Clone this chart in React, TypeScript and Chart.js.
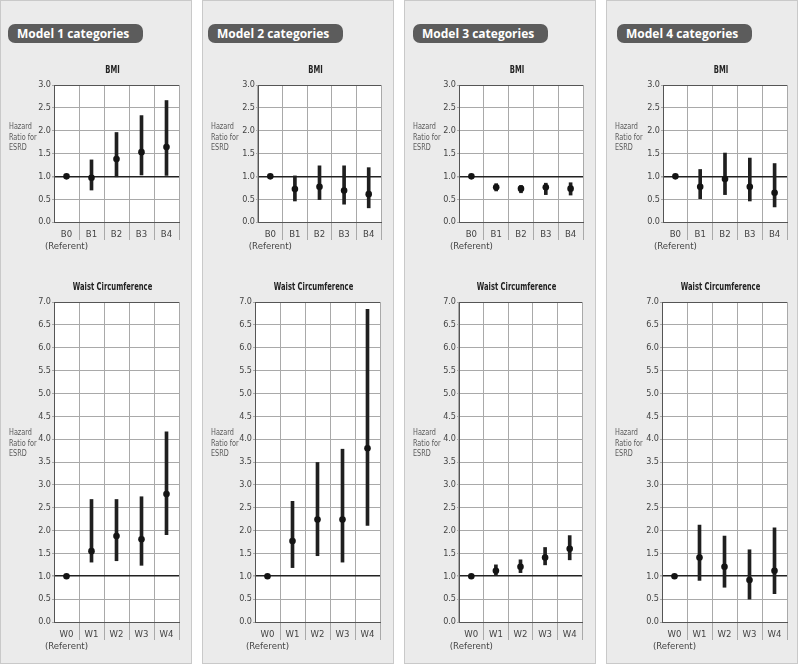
import React, { useEffect, useRef } from "react";
import { Chart, registerables } from "chart.js";

Chart.register(...registerables);

const FONT = "'Liberation Sans Narrow', 'DejaVu Sans Condensed', Arial, sans-serif";

// ---------- data ----------
const modelTitles = ["Model 1 categories", "Model 2 categories", "Model 3 categories", "Model 4 categories"];
const bmiTitle = "BMI";
const waistTitle = "Waist Circumference";
const yAxisTitleLines = ["Hazard", "Ratio for", "ESRD"];
const bmiCategories = [["B0", "(Referent)"], "B1", "B2", "B3", "B4"];
const waistCategories = [["W0", "(Referent)"], "W1", "W2", "W3", "W4"];
const bmiYMax = 3.0;
const waistYMax = 7.0;
const yTickStep = 0.5;

const model1BmiHR = [1.0, 0.97, 1.38, 1.53, 1.64];
const model1BmiLow = [null, 0.70, 0.99, 1.03, 1.02];
const model1BmiHigh = [null, 1.36, 1.96, 2.33, 2.66];

const model2BmiHR = [1.0, 0.72, 0.77, 0.69, 0.61];
const model2BmiLow = [null, 0.46, 0.49, 0.39, 0.31];
const model2BmiHigh = [null, 1.01, 1.23, 1.23, 1.19];

const model3BmiHR = [1.0, 0.76, 0.73, 0.76, 0.73];
const model3BmiLow = [null, 0.68, 0.64, 0.60, 0.59];
const model3BmiHigh = [null, 0.84, 0.80, 0.85, 0.86];

const model4BmiHR = [1.0, 0.77, 0.94, 0.77, 0.64];
const model4BmiLow = [null, 0.51, 0.60, 0.46, 0.33];
const model4BmiHigh = [null, 1.15, 1.51, 1.40, 1.28];

const model1WaistHR = [1.0, 1.55, 1.88, 1.81, 2.80];
const model1WaistLow = [null, 1.31, 1.34, 1.24, 1.91];
const model1WaistHigh = [null, 2.68, 2.68, 2.74, 4.16];

const model2WaistHR = [1.0, 1.77, 2.24, 2.24, 3.80];
const model2WaistLow = [null, 1.19, 1.45, 1.31, 2.11];
const model2WaistHigh = [null, 2.64, 3.49, 3.78, 6.84];

const model3WaistHR = [1.0, 1.12, 1.21, 1.41, 1.60];
const model3WaistLow = [null, 1.03, 1.08, 1.25, 1.36];
const model3WaistHigh = [null, 1.25, 1.36, 1.63, 1.89];

const model4WaistHR = [1.0, 1.41, 1.21, 0.92, 1.12];
const model4WaistLow = [null, 0.91, 0.76, 0.50, 0.62];
const model4WaistHigh = [null, 2.12, 1.88, 1.58, 2.06];

const bmiSeries = [
  { hr: model1BmiHR, low: model1BmiLow, high: model1BmiHigh },
  { hr: model2BmiHR, low: model2BmiLow, high: model2BmiHigh },
  { hr: model3BmiHR, low: model3BmiLow, high: model3BmiHigh },
  { hr: model4BmiHR, low: model4BmiLow, high: model4BmiHigh },
];
const waistSeries = [
  { hr: model1WaistHR, low: model1WaistLow, high: model1WaistHigh },
  { hr: model2WaistHR, low: model2WaistLow, high: model2WaistHigh },
  { hr: model3WaistHR, low: model3WaistLow, high: model3WaistHigh },
  { hr: model4WaistHR, low: model4WaistLow, high: model4WaistHigh },
];

// ---------- layout ----------
const panelX = [0, 202, 404, 606];
const panelW = 192;
const pillX = [8, 208, 413, 617];
const bmiPlotLeft = [54, 258, 459, 663];
const bmiPlotRight = [179, 381, 583, 787];
const waistPlotLeft = [54, 255, 459, 662];
const waistPlotRight = [179, 380, 582, 787];

const BMI_LAYOUT = { canvasTop: 55, canvasHeight: 205, plotTop: 85, plotBottom: 222, titleY: 70, yTitleY: 127 };
const WAIST_LAYOUT = { canvasTop: 262, canvasHeight: 400, plotTop: 302, plotBottom: 622, titleY: 287, yTitleY: 433 };

function drawSqueezed(ctx: CanvasRenderingContext2D, text: string, x: number, y: number, sx: number) {
  ctx.save();
  ctx.translate(x, y);
  ctx.scale(sx, 1);
  ctx.fillText(text, 0, 0);
  ctx.restore();
}

const decorPlugin = {
  id: "decor",
  beforeDraw(chart: any) {
    const { ctx, chartArea } = chart;
    ctx.save();
    ctx.fillStyle = "#ffffff";
    ctx.fillRect(chartArea.left, chartArea.top, chartArea.right - chartArea.left, chartArea.bottom - chartArea.top);
    ctx.restore();
  },
  afterDraw(chart: any, _args: any, opts: any) {
    const { ctx, chartArea } = chart;
    ctx.save();
    ctx.fillStyle = "#222";
    ctx.font = `bold 10.5px ${FONT}`;
    ctx.textAlign = "center";
    ctx.textBaseline = "middle";
    drawSqueezed(ctx, opts.title, (chartArea.left + chartArea.right) / 2 - 4, opts.titleY, 0.72);
    ctx.fillStyle = "#5a5a5a";
    ctx.font = `9.5px ${FONT}`;
    ctx.textAlign = "left";
    (opts.yTitle as string[]).forEach((line, i) => {
      drawSqueezed(ctx, line, opts.yTitleX, opts.yTitleY + i * 10.5, 0.76);
    });
    ctx.restore();
  },
};

type Spec = {
  title: string;
  categories: any[];
  hr: number[];
  low: (number | null)[];
  high: (number | null)[];
  yMax: number;
  left: number;
  width: number;
  plotLeft: number;
  plotRight: number;
  layout: typeof BMI_LAYOUT;
};

function ErrorBarChart({ spec }: { spec: Spec }) {
  const ref = useRef<HTMLCanvasElement>(null);
  useEffect(() => {
    const L = spec.layout;
    const yAxisW = spec.plotLeft - spec.left;
    const padRight = spec.left + spec.width - spec.plotRight;
    const xAxisH = L.canvasTop + L.canvasHeight - L.plotBottom;
    const bars = spec.low.map((l, i) => (l == null ? null : [l, spec.high[i] as number]));
    const gridGray = "#a9a9a9";
    const frame = "#555";
    const n = spec.categories.length;
    const chart = new Chart(ref.current as HTMLCanvasElement, {
      type: "bar",
      data: {
        labels: spec.categories,
        datasets: [
          {
            type: "line",
            data: spec.hr,
            showLine: false,
            pointRadius: 3.3,
            pointBackgroundColor: "#141414",
            pointBorderWidth: 0,
            order: 0,
          } as any,
          {
            type: "bar",
            data: bars as any,
            backgroundColor: "#1f1f1f",
            barThickness: 3,
            borderWidth: 0,
            order: 1,
          } as any,
        ],
      },
      options: {
        responsive: false,
        maintainAspectRatio: false,
        animation: false,
        layout: { padding: { top: L.plotTop - L.canvasTop, left: 0, right: padRight, bottom: 0 } },
        plugins: {
          legend: { display: false },
          tooltip: { enabled: false },
          decor: {
            title: spec.title,
            titleY: L.titleY - L.canvasTop,
            yTitle: yAxisTitleLines,
            yTitleX: 9,
            yTitleY: L.yTitleY - L.canvasTop,
          },
        } as any,
        scales: {
          x: {
            type: "category",
            offset: true,
            grid: {
              offset: true,
              color: (c: any) => (c.index === n ? frame : gridGray),
              tickColor: (c: any) => (c.index === 0 || c.index === n ? "transparent" : gridGray),
              tickLength: 18,
              lineWidth: 1,
            },
            border: { color: frame, width: 1 },
            ticks: {
              font: { family: FONT, size: 9.5, lineHeight: 1.25 },
              color: "#444",
              padding: -11,
              maxRotation: 0,
              autoSkip: false,
            },
            afterFit: (s: any) => {
              s.height = xAxisH;
            },
          },
          y: {
            min: 0,
            max: spec.yMax,
            ticks: {
              stepSize: yTickStep,
              callback: (v: any) => Number(v).toFixed(1),
              font: { family: FONT, size: 9 },
              color: "#444",
              padding: 1,
            },
            grid: {
              color: (c: any) => {
                const v = c.tick ? c.tick.value : null;
                if (v === 1) return "#222";
                if (v === spec.yMax) return frame;
                return gridGray;
              },
              lineWidth: (c: any) => (c.tick && c.tick.value === 1 ? 1.6 : 1),
              tickLength: 2,
              tickColor: gridGray,
            },
            border: { color: frame, width: 1 },
            afterFit: (s: any) => {
              s.width = yAxisW;
            },
          },
        },
      },
      plugins: [decorPlugin as any],
    });
    return () => chart.destroy();
  }, []);
  return (
    <canvas
      ref={ref}
      width={spec.width}
      height={spec.layout.canvasHeight}
      style={{ position: "absolute", left: spec.left, top: spec.layout.canvasTop, width: spec.width, height: spec.layout.canvasHeight }}
    />
  );
}

export default function App() {
  return (
    <div style={{ position: "absolute", left: 0, top: 0, width: 800, height: 664, background: "#fff", overflow: "hidden" }}>
      {modelTitles.map((t, i) => (
        <div
          key={"p" + i}
          style={{
            position: "absolute",
            left: panelX[i],
            top: 0,
            width: panelW,
            height: 664,
            background: "#ebebeb",
            border: "1px solid #c9c9c9",
            boxSizing: "border-box",
          }}
        />
      ))}
      {modelTitles.map((t, i) => (
        <div
          key={"t" + i}
          style={{
            position: "absolute",
            left: pillX[i],
            top: 24,
            width: 135,
            height: 19,
            background: "#5c5c5c",
            borderRadius: 7,
            color: "#fff",
            fontFamily: "'Open Sans', Lato, sans-serif",
            fontWeight: 700,
            fontSize: 12,
            lineHeight: "19px",
            paddingLeft: 9,
            boxSizing: "border-box",
            whiteSpace: "nowrap",
          }}
        >
          {t}
        </div>
      ))}
      {bmiSeries.map((s, i) => (
        <ErrorBarChart
          key={"b" + i}
          spec={{
            title: bmiTitle,
            categories: bmiCategories,
            hr: s.hr,
            low: s.low,
            high: s.high,
            yMax: bmiYMax,
            left: panelX[i],
            width: panelW,
            plotLeft: bmiPlotLeft[i],
            plotRight: bmiPlotRight[i],
            layout: BMI_LAYOUT,
          }}
        />
      ))}
      {waistSeries.map((s, i) => (
        <ErrorBarChart
          key={"w" + i}
          spec={{
            title: waistTitle,
            categories: waistCategories,
            hr: s.hr,
            low: s.low,
            high: s.high,
            yMax: waistYMax,
            left: panelX[i],
            width: panelW,
            plotLeft: waistPlotLeft[i],
            plotRight: waistPlotRight[i],
            layout: WAIST_LAYOUT,
          }}
        />
      ))}
    </div>
  );
}
